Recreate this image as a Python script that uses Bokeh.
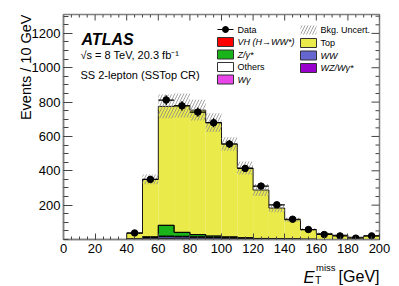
import numpy as np
from math import pi
from bokeh.plotting import figure
from bokeh.models import Label, BoxAnnotation, FixedTicker, Range1d
from bokeh.embed import file_html
from bokeh.resources import INLINE

# ---------------- data ----------------
edges = [40, 50, 60, 70, 80, 90, 100, 110, 120, 130, 140, 150, 160, 170, 180, 190, 200]
data = [38, 350, 812, 778, 742, 680, 556, 414, 311, 202, 118, 58, 29, 21, 8, 21]
wz = [1, 5, 6, 5, 4, 3, 3, 2, 1, 1, 1, 0, 0, 0, 0, 0]
ww = [1, 6, 10, 10, 9, 7, 5, 3, 2, 2, 1, 1, 0, 0, 0, 0]
wgamma = [0, 1, 2, 2, 1, 1, 1, 1, 0, 0, 0, 0, 0, 0, 0, 0]
others = [0, 1, 2, 2, 2, 1, 1, 1, 1, 0, 0, 0, 0, 0, 0, 0]
zgamma = [0, 2, 62, 22, 12, 8, 5, 3, 2, 1, 1, 0, 0, 0, 0, 0]
vh = [0, 0, 1, 1, 1, 0, 0, 0, 0, 0, 0, 0, 0, 0, 0, 0]
top = [33, 335, 692, 738, 724, 660, 541, 406, 282, 179, 112, 57, 35, 25, 13, 21]
rel_unc = [0.10, 0.08, 0.09, 0.09, 0.08, 0.08, 0.07, 0.09, 0.12, 0.13, 0.12, 0.12, 0.15, 0.15, 0.20, 0.15]

x_ticks = [0, 20, 40, 60, 80, 100, 120, 140, 160, 180, 200]
y_ticks = [200, 400, 600, 800, 1000, 1200]

# ---------------- styles ----------------
FONT = "Liberation Sans"
layers = [
    (wz, "#9900cc"),
    (ww, "#6666d0"),
    (wgamma, "#e846e8"),
    (others, "#ffffff"),
    (zgamma, "#1ab31a"),
    (vh, "#ff0000"),
    (top, "#eaea4a"),
]

XMAX, YMAX = 200, 1310
FW, FH = 316.0, 225.0   # frame size in px
p = figure(width=399, height=286, x_range=Range1d(0, XMAX), y_range=Range1d(0, YMAX),
           output_backend="svg", toolbar_location=None,
           min_border_left=63, min_border_right=20, min_border_top=14, min_border_bottom=47)
p.xgrid.visible = False
p.ygrid.visible = False
p.outline_line_color = "#808080"
p.outline_line_width = 1.5
p.background_fill_color = "white"
p.border_fill_color = "white"

# page-pixel -> data helpers (frame: x 63..379, y 14..239)
def X(px):
    return (px - 63) * XMAX / FW

def Y(py):
    return (239 - py) * YMAX / FH

# ---------------- stack ----------------
e = np.array(edges, dtype=float)
lefts, rights = e[:-1], e[1:]
centers = 0.5 * (lefts + rights)
cum = np.zeros(len(lefts))
cums = []
for vals, col in layers:
    v = np.array(vals, dtype=float)
    p.quad(left=lefts, right=rights, bottom=cum, top=cum + v, fill_color=col, line_color=None)
    cum = cum + v
    cums.append(cum.copy())

xs_step = np.repeat(e, 2)
for c in cums:
    ys_step = np.concatenate([[0], np.repeat(c, 2), [0]])
    p.line(xs_step, ys_step, line_color="black", line_width=0.9)

total = cums[-1]
unc = np.array(rel_unc) * total
p.quad(left=lefts, right=rights, bottom=total - unc, top=total + unc,
       fill_alpha=0, line_color=None, hatch_pattern="/", hatch_color="#8a8a8a",
       hatch_scale=6, hatch_weight=0.8)

# ---------------- data points ----------------
d = np.array(data, dtype=float)
err = np.sqrt(d)
p.segment(x0=lefts, x1=rights, y0=d, y1=d, line_color="black", line_width=1.2)
p.segment(x0=centers, x1=centers, y0=d - err, y1=d + err, line_color="black", line_width=1.2)
p.scatter(centers, d, size=6.5, color="black")

# ---------------- axes ----------------
xminor = list(range(0, 201, 5))
yminor = list(range(0, 1301, 50))
p.xaxis.ticker = FixedTicker(ticks=x_ticks, minor_ticks=xminor)
p.yaxis.ticker = FixedTicker(ticks=y_ticks, minor_ticks=yminor)
for ax in (p.xaxis[0], p.yaxis[0]):
    ax.axis_line_color = "#808080"
    ax.axis_line_width = 1.5
    ax.major_tick_out = 0
    ax.minor_tick_out = 0
    ax.major_tick_line_color = "#444444"
    ax.minor_tick_line_color = "#444444"
    ax.major_label_text_font = FONT
    ax.major_label_text_font_size = "13px"
    ax.major_label_text_color = "black"
p.xaxis.major_tick_in = 6
p.xaxis.minor_tick_in = 3
p.yaxis.major_tick_in = 9
p.yaxis.minor_tick_in = 5
p.xaxis.major_label_standoff = 4
p.yaxis.major_label_standoff = 3

# mirrored ticks on top and right edges
xmaj = np.array(x_ticks, dtype=float)
xmin_ = np.array([t for t in xminor if t not in x_ticks], dtype=float)
ymaj = np.array(y_ticks, dtype=float)
ymin_ = np.array([t for t in yminor if t not in y_ticks and t > 0], dtype=float)
py2d = YMAX / FH
px2d = XMAX / FW
p.segment(x0=xmaj, x1=xmaj, y0=np.full(len(xmaj), YMAX), y1=np.full(len(xmaj), YMAX - 6 * py2d),
          line_color="#444444", line_width=1)
p.segment(x0=xmin_, x1=xmin_, y0=np.full(len(xmin_), YMAX), y1=np.full(len(xmin_), YMAX - 3 * py2d),
          line_color="#444444", line_width=1)
p.segment(x0=np.full(len(ymaj), XMAX), x1=np.full(len(ymaj), XMAX - 8 * px2d), y0=ymaj, y1=ymaj,
          line_color="#444444", line_width=1)
p.segment(x0=np.full(len(ymin_), XMAX), x1=np.full(len(ymin_), XMAX - 4 * px2d), y0=ymin_, y1=ymin_,
          line_color="#444444", line_width=1)

# ---------------- texts ----------------
def lab(px, py, text, size, style="normal", align="left", baseline="alphabetic", angle=0, place=None):
    l = Label(x=X(px), y=Y(py), text=text, text_font=FONT, text_font_size=size,
              text_font_style=style, text_align=align, text_baseline=baseline,
              angle=angle, text_color="black")
    if place is None:
        p.add_layout(l)
    else:
        p.add_layout(l, place)

# texts outside the frame live in side panels (spread over panels with spare room)
lab(25, 14, "Events / 10 GeV", "14.5px", align="right", angle=pi / 2, place="left")
lab(303, 276, "E", "16.5px", style="italic", place="right")
lab(314.5, 279, "T", "10.5px", place="left")
lab(315.5, 267, "miss", "9.5px", place="above")
lab(379, 276, "[GeV]", "16px", align="right", place="below")

lab(81, 39, "ATLAS", "16px", style="bold italic")
lab(80, 54, "√s = 8 TeV, 20.3 fb⁻¹", "11px")
lab(80, 74, "SS 2-lepton (SSTop CR)", "11px")

# ---------------- legend ----------------
def swatch(x0, x1, yc, col, hatch=False):
    if hatch:
        p.add_layout(BoxAnnotation(left=X(x0), right=X(x1), top=Y(yc - 4.5), bottom=Y(yc + 4.5),
                                   fill_alpha=0, line_alpha=0, hatch_pattern="/",
                                   hatch_color="#8a8a8a", hatch_scale=6, hatch_weight=0.8))
    else:
        p.add_layout(BoxAnnotation(left=X(x0), right=X(x1), top=Y(yc - 4.5), bottom=Y(yc + 4.5),
                                   fill_color=col, fill_alpha=1, line_color="#333333",
                                   line_alpha=1, line_width=1))

L0, L1, LT = 217, 233, 237
R0, R1, RT = 300, 316, 320
# Data entry
p.line([X(L0), X(L1)], [Y(29), Y(29)], line_color="black", line_width=1.2)
p.line([X(225), X(225)], [Y(26), Y(32)], line_color="black", line_width=1.2)
p.scatter([X(225)], [Y(29)], size=6, color="black")
lab(LT, 29, "Data", "9px", baseline="middle")
swatch(L0, L1, 41.5, "#ff0000")
lab(LT, 41.5, "VH (H→WW*)", "9px", style="italic", baseline="middle")
swatch(L0, L1, 54, "#1ab31a")
lab(LT, 54, "Z/γ*", "9px", style="italic", baseline="middle")
swatch(L0, L1, 66.5, "#ffffff")
lab(LT, 66.5, "Others", "9px", baseline="middle")
swatch(L0, L1, 79, "#e846e8")
lab(LT, 79, "Wγ", "9px", style="italic", baseline="middle")

swatch(R0, R1, 29.5, None, hatch=True)
lab(RT, 29.5, "Bkg. Uncert.", "9px", baseline="middle")
swatch(R0, R1, 42.5, "#eaea4a")
lab(RT, 42.5, "Top", "9px", baseline="middle")
swatch(R0, R1, 55, "#6666d0")
lab(RT, 55, "WW", "9px", style="italic", baseline="middle")
swatch(R0, R1, 67.5, "#9900cc")
lab(RT, 67.5, "WZ/Wγ*", "9px", style="italic", baseline="middle")

open("out.html", "w").write(file_html(p, INLINE))
